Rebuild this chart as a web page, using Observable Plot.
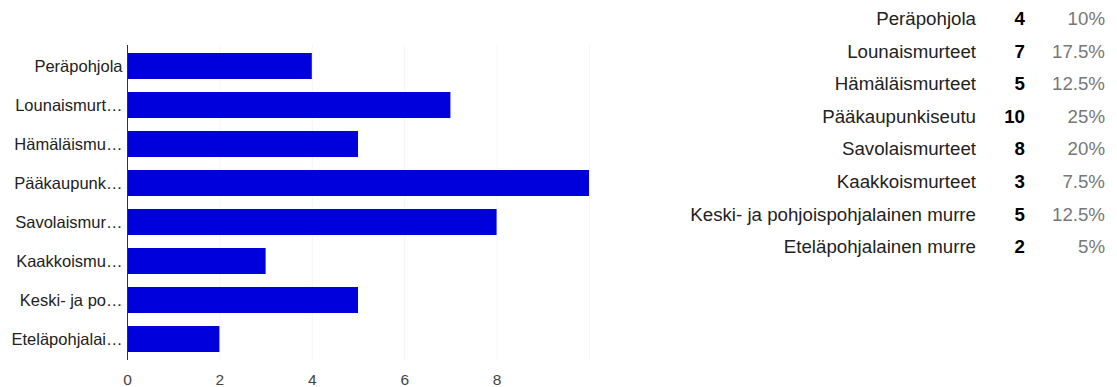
<!DOCTYPE html>
<html>
<head>
<meta charset="utf-8">
<script src="https://cdn.jsdelivr.net/npm/d3@7"></script>
<script src="https://cdn.jsdelivr.net/npm/@observablehq/plot@0.6"></script>
<style>
  body { margin: 0; background: #fff; font-family: "Liberation Sans", Arial, sans-serif; }
  #wrap { position: relative; width: 1117px; height: 387px; overflow: hidden; }
  #chart { position: absolute; left: 0; top: 0; }
  #tbl { position: absolute; right: 12px; top: 3px; border-collapse: collapse; font-size: 18.7px; }
  #tbl td { padding: 0; height: 32.6px; line-height: 32.6px; text-align: right; white-space: nowrap; }
  #tbl td.lab { color: #222; }
  #tbl td.num { width: 49px; color: #000; font-weight: bold; }
  #tbl td.pct { width: 80px; color: #777; }
</style>
</head>
<body>
<div id="wrap">
  <div id="chart"></div>
  <table id="tbl"></table>
</div>
<script>
const categories = ["Peräpohjola", "Lounaismurteet", "Hämäläismurteet", "Pääkaupunkiseutu", "Savolaismurteet", "Kaakkoismurteet", "Keski- ja pohjoispohjalainen murre", "Eteläpohjalainen murre"];
const yLabels = ["Peräpohjola", "Lounaismurt…", "Hämäläismu…", "Pääkaupunk…", "Savolaismur…", "Kaakkoismu…", "Keski- ja po…", "Eteläpohjalai…"];
const counts = [4, 7, 5, 10, 8, 3, 5, 2];
const percents = ["10%", "17.5%", "12.5%", "25%", "20%", "7.5%", "12.5%", "5%"];
const xTicks = [0, 2, 4, 6, 8];
const gridTicks = [2, 4, 6, 8, 10];

const data = categories.map((c, i) => ({category: c, count: counts[i]}));
const labelOf = new Map(categories.map((c, i) => [c, yLabels[i]]));

const chart = Plot.plot({
  width: 650,
  height: 387,
  marginLeft: 127,
  marginRight: 61,
  marginTop: 45,
  marginBottom: 27,
  style: {fontFamily: "'Liberation Sans', Arial, sans-serif", fontSize: "16px", background: "transparent"},
  x: {domain: [0, 10]},
  y: {domain: categories, paddingInner: 0.34, paddingOuter: 0.17},
  marks: [
    Plot.gridX(gridTicks, {stroke: "#f6f6f6", strokeOpacity: 1}),
    Plot.barX(data, {x: "count", y: "category", fill: "#0000dd"}),
    Plot.ruleX([0], {stroke: "#333", strokeWidth: 1}),
    Plot.axisY({tickSize: 0, tickPadding: 5, tickFormat: d => labelOf.get(d), fill: "#222", fontSize: 16.5, label: null}),
    Plot.axisX(xTicks, {tickSize: 0, tickPadding: 13, fill: "#444", fontSize: 15.5, label: null})
  ]
});
document.getElementById("chart").appendChild(chart);

const tbl = d3.select("#tbl");
const rows = tbl.selectAll("tr").data(categories).join("tr");
rows.append("td").attr("class", "lab").text(d => d);
rows.append("td").attr("class", "num").text((d, i) => counts[i]);
rows.append("td").attr("class", "pct").text((d, i) => percents[i]);
</script>
</body>
</html>
